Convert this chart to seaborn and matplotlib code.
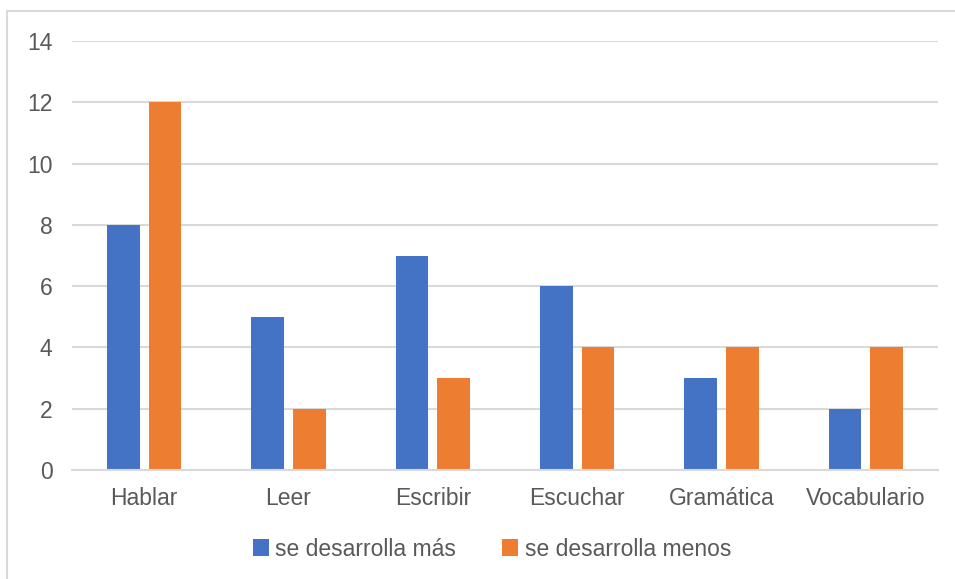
import pandas as pd
import matplotlib.pyplot as plt
import seaborn as sns
from matplotlib.patches import Patch
from matplotlib.lines import Line2D

categorias = ['Hablar', 'Leer', 'Escribir', 'Escuchar', 'Gramática', 'Vocabulario']
series = ['se desarrolla más', 'se desarrolla menos']
mas = [8, 5, 7, 6, 3, 2]
menos = [12, 2, 3, 4, 4, 4]
yticks = [0, 2, 4, 6, 8, 10, 12, 14]

colores = ['#4472C4', '#ED7D31']
texto = '#595959'
rejilla = '#D9D9D9'

df = pd.DataFrame({
    'categoria': categorias * 2,
    'serie': [series[0]] * len(categorias) + [series[1]] * len(categorias),
    'valor': mas + menos,
})

sns.set_style('white')
plt.rcParams['font.family'] = ['Liberation Sans', 'DejaVu Sans']

fig = plt.figure(figsize=(9.55, 5.79), dpi=100)
ax = fig.add_axes([72 / 955, 1 - 470 / 579, 866 / 955, 429 / 579])

sns.barplot(data=df, x='categoria', y='valor', hue='serie', palette=colores,
            width=0.579, gap=0.218, ax=ax, legend=False, saturation=1,
            linewidth=0)

ax.set_ylim(0, 14)
ax.set_xlim(-0.5, len(categorias) - 0.5)
ax.set_yticks(yticks)
ax.set_xlabel('')
ax.set_ylabel('')
ax.yaxis.grid(True, color=rejilla, linewidth=1.5)
ax.set_axisbelow(True)
for s in ['top', 'right', 'left']:
    ax.spines[s].set_visible(False)
ax.spines['bottom'].set_color(rejilla)
ax.spines['bottom'].set_linewidth(1.5)
ax.tick_params(axis='both', length=0, labelsize=16.5, labelcolor=texto)
ax.tick_params(axis='y', pad=14)
ax.tick_params(axis='x', pad=12)

handles = [Patch(facecolor=c, edgecolor='none') for c in colores]
fig.legend(handles, series, loc='center', bbox_to_anchor=(492 / 955, 1 - 549 / 579),
           ncol=2, frameon=False, fontsize=16.5, labelcolor=texto,
           handlelength=0.7, handleheight=0.7, handletextpad=0.3, columnspacing=2.0)

# borde del cuadro del gráfico (solo arriba e izquierda visibles)
fig.add_artist(Line2D([7 / 955, 1], [1 - 11 / 579] * 2, color=rejilla, linewidth=1.5))
fig.add_artist(Line2D([7 / 955] * 2, [0, 1 - 11 / 579], color=rejilla, linewidth=1.5))

fig.savefig('out.png', dpi=100)
